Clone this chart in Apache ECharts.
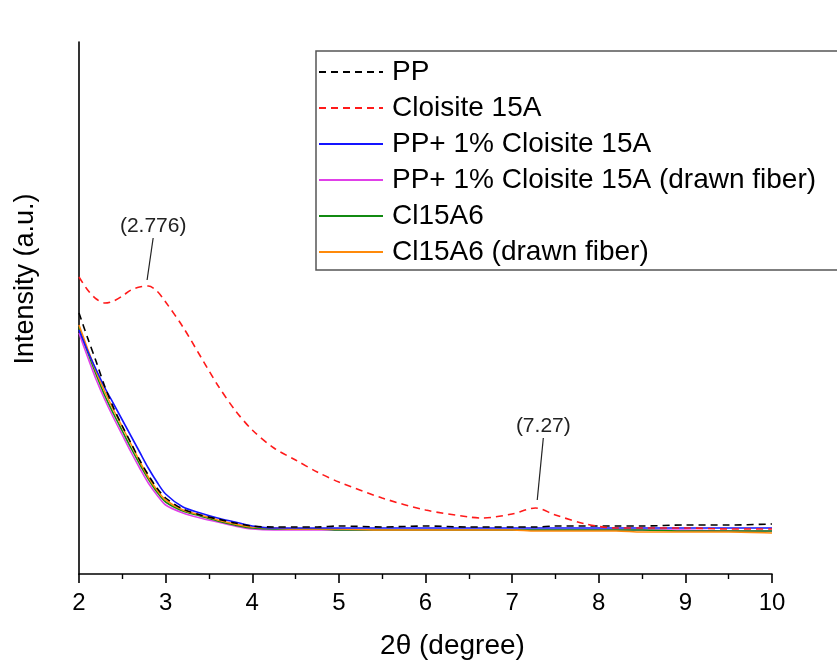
<!DOCTYPE html>
<html>
<head>
<meta charset="utf-8">
<script src="https://cdn.jsdelivr.net/npm/echarts@6/dist/echarts.min.js"></script>
<style>
html,body{margin:0;padding:0;background:#fff;}
#chart{width:837px;height:660px;}
</style>
</head>
<body>
<div id="chart"></div>
<script>
// 2θ positions (degree)
const twoTheta = [2.0, 2.1, 2.2, 2.3, 2.4, 2.5, 2.6, 2.7, 2.8, 2.9, 3.0, 3.2, 3.4, 3.6, 3.8, 4.0, 4.25, 4.5, 4.75, 5.0, 5.5, 6.0, 6.5, 6.65, 7.0, 7.27, 7.5, 7.85, 8.2, 8.5, 9.0, 9.5, 10.0];

// Intensities (a.u.)
const ppVals        = [261, 236, 212, 187, 166, 148, 131, 114, 99, 86, 76, 65, 59, 55, 51, 48, 47, 47, 47, 48, 47, 48, 47, 47, 47, 47, 48, 48, 48, 48, 49, 49, 50];
const cloisiteVals  = [297, 284, 275, 271, 273, 278, 284, 287, 288, 283, 272, 247, 218, 189, 164, 144, 126, 114, 102, 92, 76, 64, 57, 56, 60, 66, 59, 50, 46, 46, 46, 45, 45];
const pp1Vals       = [244, 223, 204, 186, 170, 154, 138, 122, 106, 92, 80, 67, 61, 56, 52, 48, 46, 46, 46, 46, 46, 46, 46, 46, 46, 46, 46, 46, 46, 46, 46, 46, 46];
const pp1FiberVals  = [241, 217, 194, 174, 156, 139, 122, 106, 91, 79, 69, 61, 56, 52, 48, 45, 44, 44, 44, 44, 44, 44, 44, 44, 44, 44, 44, 44, 44, 44, 44, 43, 43];
const cl15a6Vals    = [247, 222, 199, 178, 160, 143, 126, 110, 95, 82, 72, 63, 58, 53, 49, 46, 45, 45, 45, 44, 44, 44, 44, 44, 44, 44, 44, 44, 44, 44, 43, 43, 43];
const cl15a6FibVals = [249, 225, 202, 182, 164, 147, 130, 113, 97, 84, 74, 64, 59, 54, 50, 47, 46, 45, 45, 45, 44, 44, 44, 44, 44, 43, 43, 43, 43, 42, 42, 42, 41];

const seriesNames = ['PP', 'Cloisite 15A', 'PP+ 1% Cloisite 15A', 'PP+ 1% Cloisite 15A (drawn fiber)', 'Cl15A6', 'Cl15A6 (drawn fiber)'];
const xTicks = [2, 3, 4, 5, 6, 7, 8, 9, 10];

// Peak annotations
const peakLabels = ['(2.776)', '(7.27)'];
const peakX = [2.776, 7.27];
const peakY = [288, 66];

const FONT = 'Liberation Sans, Arial, Helvetica, sans-serif';

function pairs(vals){ return twoTheta.map((x,i)=>[x, vals[i]]); }

function mkSeries(name, vals, color, dashed, z){
  return {
    name: name,
    type: 'line',
    data: pairs(vals),
    symbol: 'none',
    smooth: 0.3,
    z: z,
    lineStyle: { color: color, width: 1.6, type: dashed ? [7,5] : 'solid' },
    itemStyle: { color: color },
    emphasis: { disabled: true },
    animation: false
  };
}

const series = [
  mkSeries(seriesNames[0], ppVals, '#000000', true, 8),
  mkSeries(seriesNames[1], cloisiteVals, '#ff1a1a', true, 9),
  mkSeries(seriesNames[2], pp1Vals, '#1414ff', false, 7),
  mkSeries(seriesNames[3], pp1FiberVals, '#e040e8', false, 3),
  mkSeries(seriesNames[4], cl15a6Vals, '#118a11', false, 5),
  mkSeries(seriesNames[5], cl15a6FibVals, '#ff8a0a', false, 6)
];

// leader lines and labels for peaks on Cloisite series
series[1].markLine = {
  silent: true,
  symbol: ['none','none'],
  animation: false,
  label: { show: false },
  lineStyle: { color: '#222', width: 1.2, type: 'solid' },
  data: [
    [{coord: [peakX[0] + 0.01, peakY[0] + 6]}, {coord: [peakX[0] + 0.08, peakY[0] + 48]}],
    [{coord: [peakX[1] + 0.02, peakY[1] + 8]}, {coord: [peakX[1] + 0.09, peakY[1] + 70]}]
  ]
};
series[1].markPoint = {
  silent: true,
  symbol: 'circle',
  symbolSize: 0,
  animation: false,
  label: { show: true, position: 'inside', color: '#222', fontSize: 21, fontFamily: FONT,
           formatter: p => p.name },
  data: [
    {name: peakLabels[0], coord: [peakX[0] + 0.08, peakY[0] + 60]},
    {name: peakLabels[1], coord: [peakX[1] + 0.09, peakY[1] + 82]}
  ]
};

const chart = echarts.init(document.getElementById('chart'), null, {renderer: 'canvas'});
chart.setOption({
  backgroundColor: '#ffffff',
  animation: false,
  grid: { left: 79, right: 65, top: 42, bottom: 86, containLabel: false, outerBoundsMode: 'none' },
  legend: {
    orient: 'vertical',
    left: 316,
    top: 51,
    data: seriesNames,
    itemWidth: 64,
    itemHeight: 28,
    itemGap: 8,
    padding: [7, 40, 4, 2],
    borderColor: '#555',
    borderWidth: 1.5,
    backgroundColor: '#fff',
    selectedMode: false,
    itemStyle: { color: 'rgba(0,0,0,0)', borderColor: 'rgba(0,0,0,0)', borderWidth: 0, opacity: 0 },
    textStyle: { fontSize: 28, color: '#000', fontFamily: FONT, padding: [0,0,0,4] }
  },
  xAxis: {
    type: 'value',
    min: 2, max: 10, interval: 1,
    name: '2θ (degree)',
    nameLocation: 'middle',
    nameGap: 58,
    nameTextStyle: { fontSize: 28, color: '#000', fontFamily: FONT, padding: [0, 0, 0, 54] },
    axisLine: { show: true, lineStyle: { color: '#000', width: 1.6 } },
    axisTick: { show: true, inside: false, length: 9, lineStyle: { color: '#000', width: 1.6 } },
    minorTick: { show: true, splitNumber: 2, length: 5, lineStyle: { color: '#000', width: 1.4 } },
    splitLine: { show: false },
    axisLabel: { fontSize: 24, color: '#000', fontFamily: FONT, margin: 17,
                 formatter: v => xTicks.includes(v) ? String(v) : '' }
  },
  yAxis: {
    type: 'value',
    min: 0, max: 532,
    name: 'Intensity (a.u.)',
    nameLocation: 'middle',
    nameGap: 40,
    nameTextStyle: { fontSize: 27, color: '#000', fontFamily: FONT, padding: [0, 0, 0, 58] },
    axisLine: { show: true, lineStyle: { color: '#000', width: 1.6 } },
    axisTick: { show: false },
    axisLabel: { show: false },
    splitLine: { show: false }
  },
  series: series
});
</script>
</body>
</html>
